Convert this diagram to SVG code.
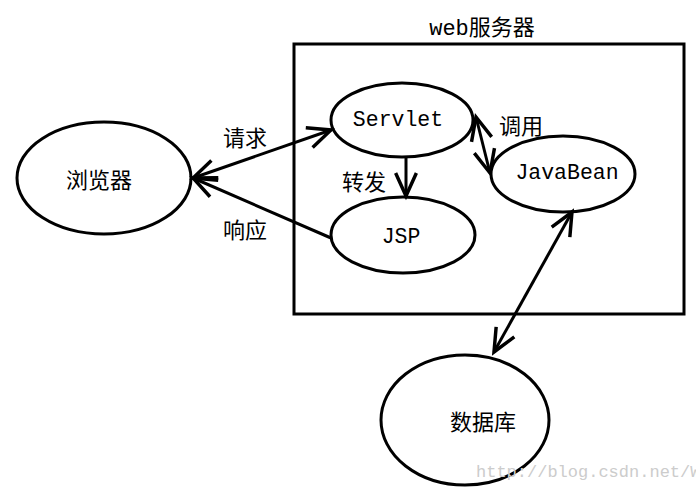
<svg xmlns="http://www.w3.org/2000/svg" width="696" height="494" viewBox="0 0 696 494">
<style>
.n{fill:#fff;stroke:#000;stroke-width:3}
.c{stroke:#000;stroke-width:3;fill:none}
.cn{font-family:"Noto Sans CJK SC","Noto Sans",sans-serif;font-size:22px;fill:#000;text-anchor:middle;dominant-baseline:central}
.lt{font-family:"Liberation Mono",monospace;font-size:21.5px;fill:#000;text-anchor:middle;dominant-baseline:central}
</style>
<defs>
<marker id="a" markerUnits="userSpaceOnUse" markerWidth="30" markerHeight="30" viewBox="-22 -12 26 24" refX="0" refY="0" orient="auto-start-reverse">
<path d="M-20,-9 L0,0 L-20,9" fill="none" stroke="#000" stroke-width="3"/>
</marker>
</defs>
<rect width="696" height="494" fill="#fff"/>
<g id="server">
<rect x="294" y="44" width="390" height="270" fill="none" stroke="#000" stroke-width="3"/>
<text x="482" y="29" class="lt" style="font-family:'Liberation Mono','Noto Sans CJK SC',monospace;font-size:22px">web服务器</text>
</g>
<g id="browser"><ellipse cx="104" cy="178" rx="87" ry="56" class="n"/><text x="99" y="178" class="cn">浏览器</text></g>
<g id="servlet"><ellipse cx="402" cy="120" rx="71" ry="37" class="n"/><text x="398" y="120" class="lt">Servlet</text></g>
<g id="jsp"><ellipse cx="403" cy="235" rx="72" ry="38" class="n"/><text x="401" y="237" class="lt">JSP</text></g>
<g id="javabean"><ellipse cx="563" cy="174" rx="72" ry="38" class="n"/><text x="567" y="173" class="lt">JavaBean</text></g>
<g id="db"><ellipse cx="465" cy="420" rx="84" ry="65" class="n"/><text x="483" y="420" class="cn">数据库</text></g>
<g id="connectors">
<line x1="193" y1="178" x2="331" y2="130" class="c" marker-start="url(#a)" marker-end="url(#a)"/>
<line x1="331" y1="238" x2="193" y2="178" class="c" marker-end="url(#a)"/>
<line x1="406" y1="158" x2="406" y2="196" class="c" marker-end="url(#a)"/>
<line x1="476" y1="117" x2="490" y2="173" class="c" marker-start="url(#a)" marker-end="url(#a)"/>
<line x1="572" y1="212" x2="494" y2="352" class="c" marker-start="url(#a)" marker-end="url(#a)"/>
<text x="245" y="136" class="cn">请求</text>
<text x="245" y="228" class="cn">响应</text>
<text x="364" y="180" class="cn">转发</text>
<text x="521" y="124" class="cn">调用</text>
</g>
<text x="476" y="472" style="font-family:'Liberation Mono',monospace;font-size:17px;fill:#ccc;dominant-baseline:central">http://blog.csdn.net/W</text>
</svg>
